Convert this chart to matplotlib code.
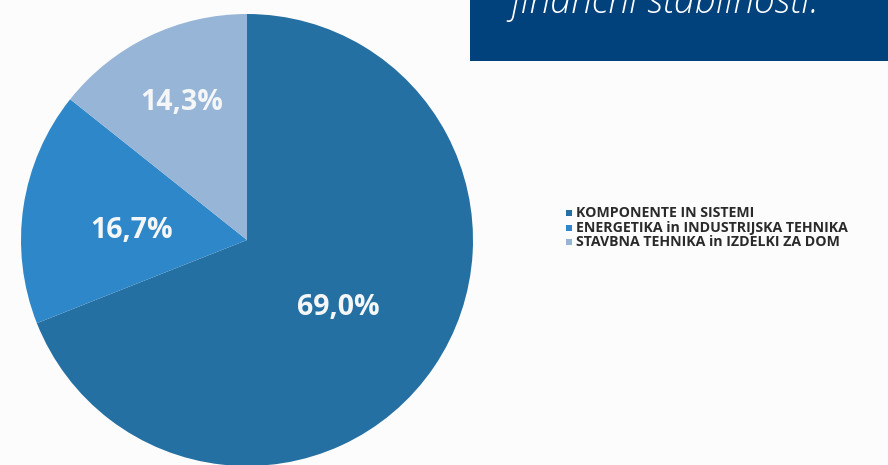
import matplotlib
matplotlib.use("Agg")
import matplotlib.pyplot as plt
from matplotlib.patches import Rectangle

categories = ["KOMPONENTE IN SISTEMI",
              "ENERGETIKA in INDUSTRIJSKA TEHNIKA",
              "STAVBNA TEHNIKA in IZDELKI ZA DOM"]
values = [69.0, 16.7, 14.3]
value_labels = ["69,0%", "16,7%", "14,3%"]
colors = ["#2570a3", "#2e87c8", "#96b5d7"]
banner_text = "finančni stabilnosti."

W, H = 888, 465
fig = plt.figure(figsize=(W / 100, H / 100), dpi=100)
fig.patch.set_facecolor("#fcfcfc")

# pie axes: center (247, 240) px, radius 226 px
cx, cy, r = 247, 240, 226
ax = fig.add_axes([(cx - r) / W, (H - cy - r) / H, 2 * r / W, 2 * r / H])
wedges, _ = ax.pie(values, colors=colors, startangle=90, counterclock=False,
                   radius=1.0, wedgeprops=dict(linewidth=0))
ax.set_xlim(-1, 1)
ax.set_ylim(-1, 1)
ax.set_aspect("auto")
ax.axis("off")

# label positions (in pie coordinates, fraction of radius)
label_pos = [((338 - cx) / r, (cy - 307) / r),
             ((132 - cx) / r, (cy - 230) / r),
             ((182 - cx) / r, (cy - 103) / r)]
for (x, y), t in zip(label_pos, value_labels):
    ax.text(x, y, t, ha="center", va="center", color="#f4f6f8",
            fontsize=20.5, fontweight="bold", family=["Open Sans", "DejaVu Sans"])

# banner box top-right
fig.patches.append(Rectangle((470 / W, (H - 61) / H), (W - 470) / W, 61 / H,
                             transform=fig.transFigure, facecolor="#02427c",
                             edgecolor="none", zorder=0))
fig.text(510 / W, (H - 13) / H, banner_text, ha="left", va="baseline",
         color="white", fontsize=27, fontstyle="italic", fontweight="light",
         family=["Open Sans", "DejaVu Sans"])

# legend
leg_y = [213, 228, 242]
for yy, c, lab in zip(leg_y, colors, categories):
    fig.patches.append(Rectangle((566 / W, (H - yy - 3) / H), 6 / W, 6 / H,
                                 transform=fig.transFigure, facecolor=c,
                                 edgecolor="none"))
    fig.text(576 / W, (H - yy) / H, lab, ha="left", va="center",
             color="#2a2a2a", fontsize=10.2, fontweight="bold",
             family=["Open Sans", "DejaVu Sans"])

fig.savefig("out.png", dpi=100, facecolor=fig.get_facecolor())
